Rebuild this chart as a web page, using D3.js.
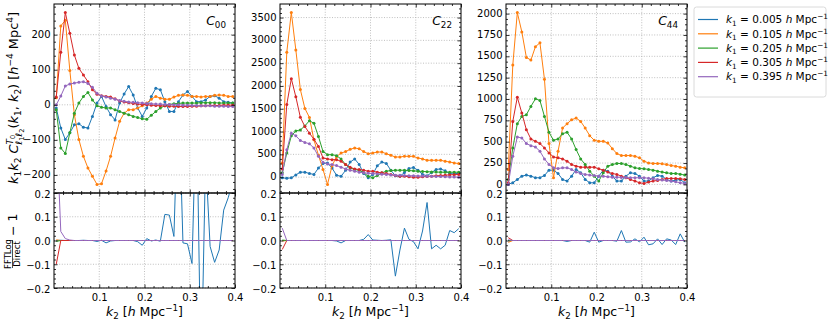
<!DOCTYPE html>
<html>
<head>
<meta charset="utf-8">
<script src="https://d3js.org/d3.v7.min.js"></script>
<style>
body { margin: 0; background: #fff; }
svg { font-family: "DejaVu Sans", sans-serif; }
.tick text { font-size: 10px; fill: #000; font-family: "DejaVu Sans", sans-serif; }
.domain { display: none; }
.tick line { stroke: #000; stroke-width: 0.8; }
.grid line { stroke: #b0b0b0; stroke-width: 0.8; stroke-dasharray: 1,1.6; }
text { white-space: pre; }
</style>
</head>
<body>
<svg width="830" height="322"></svg>
<script>
// k2 grid (h/Mpc)
var k2 = [0.005, 0.015, 0.025, 0.035, 0.045, 0.055, 0.065, 0.075, 0.085, 0.095,
          0.105, 0.115, 0.125, 0.135, 0.145, 0.155, 0.165, 0.175, 0.185, 0.195,
          0.205, 0.215, 0.225, 0.235, 0.245, 0.255, 0.265, 0.275, 0.285, 0.295,
          0.305, 0.315, 0.325, 0.335, 0.345, 0.355, 0.365, 0.375, 0.385, 0.395];
var k1Labels = ["0.005", "0.105", "0.205", "0.305", "0.395"];
var colors = ["#1f77b4", "#ff7f0e", "#2ca02c", "#d62728", "#9467bd"];

// C00
var c00_k005 = [-9, -66, -99, -80, -57, -54, -64, -66, -33, 5, 24, -5, -28, -43, 5, 31, 52, 28, -9, -33, -9, 24, 47, 43, 9, -19, -19, 9, 28, 38, 24, 9, 9, 14, 24, 26, 19, 9, 7, 5];
var c00_k105 = [20, 225, 241, 98, -28, -99, -147, -180, -204, -227, -225, -189, -147, -95, -47, -24, -14, -14, -9, -3, 5, 16, 24, 19, 16, 16, 22, 27, 28, 27, 24, 24, 22, 24, 24, 27, 28, 27, 24, 24];
var c00_k205 = [-14, -123, -139, -80, -24, 5, 24, 35, 14, -3, -7, -9, -9, -14, -19, -24, -28, -33, -36, -40, -41, -30, -19, -9, -3, 1, 3, 4, 5, 5, 5, 5, 6, 6, 6, 6, 5, 5, 5, 5];
var c00_k305 = [22, 150, 263, 204, 142, 104, 85, 66, 43, 30, 26, 24, 22, 17, 11, 8, 6, 4, 2, 1, 0, -1, -2, -3, -3, -4, -4, -5, -5, -5, -4, -4, -3, -3, -2, -2, -2, -1, -1, -1];
var c00_k395 = [0, 25, 54, 59, 62, 64, 66, 61, 50, 33, 25, 22, 19, 16, 12, 10, 8, 7, 6, 5, 4, 3, 2, 2, 1, 1, 0, 0, -1, -1, -2, -2, -3, -3, -3, -4, -4, -4, -5, -5];

// C22
var c22_k005 = [-14, -25, -14, 50, 109, 110, 80, 60, 200, 300, 310, 200, 40, 20, 150, 330, 400, 280, 80, -14, 60, 250, 330, 300, 150, 30, 20, 100, 190, 210, 150, 60, 30, 100, 170, 180, 140, 80, 70, 90];
var c22_k105 = [312, 2739, 3609, 2790, 1920, 1507, 1310, 819, 480, 170, -159, 250, 450, 529, 560, 610, 640, 623, 560, 514, 529, 551, 551, 514, 478, 442, 442, 457, 457, 457, 420, 399, 370, 370, 370, 370, 348, 333, 312, 297];
var c22_k205 = [94, 529, 906, 1014, 1036, 1123, 1239, 1181, 891, 565, 493, 493, 471, 399, 275, 203, 167, 152, 94, 22, -14, 36, 94, 130, 145, 152, 152, 152, 145, 138, 130, 125, 120, 115, 112, 110, 110, 110, 109, 109];
var c22_k305 = [181, 1594, 2159, 1761, 1312, 1109, 964, 833, 674, 420, 399, 384, 384, 348, 275, 217, 181, 167, 152, 130, 130, 109, 94, 80, 58, 36, 22, 22, 7, 0, 0, 7, 15, 22, 30, 36, 43, 50, 55, 58];
var c22_k395 = [58, 601, 964, 906, 804, 761, 732, 638, 457, 326, 290, 275, 254, 217, 181, 152, 130, 109, 94, 87, 80, 72, 65, 58, 50, 43, 40, 36, 33, 30, 27, 25, 22, 18, 15, 12, 9, 6, 3, 0];

// C44
var c44_k005 = [3, 19, 58, 97, 109, 97, 78, 78, 105, 167, 167, 128, 58, 39, 97, 175, 136, 58, 19, 19, 97, 167, 155, 97, 39, 39, 97, 136, 128, 97, 39, 39, 78, 105, 97, 58, 39, 50, 58, 19];
var c44_k105 = [175, 1398, 2012, 1786, 1487, 1456, 1612, 1658, 1231, 478, 78, 388, 660, 711, 757, 777, 738, 660, 571, 517, 505, 505, 485, 419, 361, 338, 338, 338, 330, 311, 272, 252, 245, 245, 241, 233, 221, 214, 202, 194];
var c44_k205 = [58, 427, 711, 796, 816, 913, 1002, 983, 796, 610, 517, 532, 594, 610, 532, 408, 299, 233, 155, 97, 39, 136, 214, 233, 245, 245, 233, 214, 194, 186, 183, 175, 167, 155, 144, 136, 128, 128, 120, 109];
var c44_k305 = [19, 738, 1021, 835, 641, 532, 505, 478, 427, 369, 322, 311, 299, 272, 233, 214, 202, 202, 202, 202, 183, 167, 144, 128, 117, 97, 78, 58, 39, 19, 12, 27, 39, 47, 58, 70, 70, 70, 66, 58];
var c44_k395 = [0, 330, 555, 544, 478, 454, 439, 388, 299, 233, 194, 186, 194, 194, 175, 144, 128, 117, 109, 105, 97, 97, 89, 85, 85, 82, 80, 78, 78, 78, 78, 72, 66, 58, 52, 45, 39, 30, 20, 12];

// FFTLog / Direct - 1
var r00_k005 = [0, 0.001, 0, 0, 0, 0, 0.001, 0, 0, -0.004, 0.001, -0.01, -0.002, 0, 0, 0, 0, 0, -0.005, -0.02, 0.008, -0.002, 0.002, -0.003, 0.11, 0.107, 0.017, 0.65, -0.01, -0.014, -0.097, 0.6, -0.6, 0.35, -0.025, -0.092, -0.04, 0.128, 0.18, 0.25];
var r00_k105 = [0.003, 0, 0, 0, 0, 0, 0, 0, 0, 0, 0, 0, 0, 0, 0, 0, 0, 0, 0, 0, 0, 0, 0, 0, 0, 0, 0, 0, 0, 0, 0, 0, 0, 0, 0, 0, 0, 0, 0, 0];
var r00_k205 = [-0.004, 0, 0, 0, 0, 0, 0, 0, 0, 0, 0, 0, 0, 0, 0, 0, 0, 0, 0, 0, 0, 0, 0, 0, 0, 0, 0, 0, 0, 0, 0, 0, 0, 0, 0, 0, 0, 0, 0, 0];
var r00_k305 = [-0.1, 0, 0, 0, 0, 0, 0, 0, 0, 0, 0, 0, 0, 0, 0, 0, 0, 0, 0, 0, 0, 0, 0, 0, 0, 0, 0, 0, 0, 0, 0, 0, 0, 0, 0, 0, 0, 0, 0, 0];
var r00_k395 = [0.5, 0.038, 0.008, 0.002, 0, 0, 0, 0, 0, 0, 0, 0, 0, 0, 0, 0, 0, 0, 0, 0, 0, 0, 0, 0, 0, 0, 0, 0, 0, 0, 0, 0, 0, 0, 0, 0, 0, 0, 0, 0];

var r22_k005 = [0, 0, 0, 0, 0, 0, 0, 0, 0, 0, 0, 0, -0.002, -0.01, 0, 0, 0, 0, 0.005, 0.025, 0.002, 0.001, 0, 0.001, 0.003, -0.15, -0.04, 0.052, 0.005, -0.005, -0.035, 0.04, 0.16, -0.035, -0.02, -0.035, -0.02, 0.042, 0.033, 0.05];
var r22_k105 = [-0.002, 0, 0, 0, 0, 0, 0, 0, 0, 0, 0, 0, 0, 0, 0, 0, 0, 0, 0, 0, 0, 0, 0, 0, 0, 0, 0, 0, 0, 0, 0, 0, 0, 0, 0, 0, 0, 0, 0, 0];
var r22_k205 = [0.002, 0, 0, 0, 0, 0, 0, 0, 0, 0, 0, 0, 0, 0, 0, 0, 0, 0, 0, 0, 0, 0, 0, 0, 0, 0, 0, 0, 0, 0, 0, 0, 0, 0, 0, 0, 0, 0, 0, 0];
var r22_k305 = [-0.038, 0, 0, 0, 0, 0, 0, 0, 0, 0, 0, 0, 0, 0, 0, 0, 0, 0, 0, 0, 0, 0, 0, 0, 0, 0, 0, 0, 0, 0, 0, 0, 0, 0, 0, 0, 0, 0, 0, 0];
var r22_k395 = [0.052, 0, 0, 0, 0, 0, 0, 0, 0, 0, 0, 0, 0, 0, 0, 0, 0, 0, 0, 0, 0, 0, 0, 0, 0, 0, 0, 0, 0, 0, 0, 0, 0, 0, 0, 0, 0, 0, 0, 0];

var r44_k005 = [0, 0, 0, 0, 0, 0, 0, 0, 0, 0, 0, 0, 0, -0.004, 0, 0, 0, 0, -0.007, 0.035, -0.007, 0, 0, 0, -0.003, 0.042, -0.007, -0.006, 0.007, -0.006, 0.014, -0.018, -0.014, 0.007, -0.017, 0.007, 0.002, -0.017, 0.028, -0.007];
var r44_k105 = [-0.008, 0, 0, 0, 0, 0, 0, 0, 0, 0, 0, 0, 0, 0, 0, 0, 0, 0, 0, 0, 0, 0, 0, 0, 0, 0, 0, 0, 0, 0, 0, 0, 0, 0, 0, 0, 0, 0, 0, 0];
var r44_k205 = [0, 0, 0, 0, 0, 0, 0, 0, 0, 0, 0, 0, 0, 0, 0, 0, 0, 0, 0, 0, 0, 0, 0, 0, 0, 0, 0, 0, 0, 0, 0, 0, 0, 0, 0, 0, 0, 0, 0, 0];
var r44_k305 = [0.012, 0, 0, 0, 0, 0, 0, 0, 0, 0, 0, 0, 0, 0, 0, 0, 0, 0, 0, 0, 0, 0, 0, 0, 0, 0, 0, 0, 0, 0, 0, 0, 0, 0, 0, 0, 0, 0, 0, 0];
var r44_k395 = [0.003, 0, 0, 0, 0, 0, 0, 0, 0, 0, 0, 0, 0, 0, 0, 0, 0, 0, 0, 0, 0, 0, 0, 0, 0, 0, 0, 0, 0, 0, 0, 0, 0, 0, 0, 0, 0, 0, 0, 0];

// ticks
var xTicks = [0.1, 0.2, 0.3, 0.4];
var yTicks00 = [-200, -100, 0, 100, 200];
var yTicks22 = [0, 500, 1000, 1500, 2000, 2500, 3000, 3500];
var yTicks44 = [0, 250, 500, 750, 1000, 1250, 1500, 1750, 2000];
var resTicks = [-0.2, -0.1, 0.0, 0.1, 0.2];

var panels = [
  {sub: "00", series: [c00_k005, c00_k105, c00_k205, c00_k305, c00_k395], res: [r00_k005, r00_k105, r00_k205, r00_k305, r00_k395], yTicks: yTicks00, minor: 20},
  {sub: "22", series: [c22_k005, c22_k105, c22_k205, c22_k305, c22_k395], res: [r22_k005, r22_k105, r22_k205, r22_k305, r22_k395], yTicks: yTicks22, minor: 100},
  {sub: "44", series: [c44_k005, c44_k105, c44_k205, c44_k305, c44_k395], res: [r44_k005, r44_k105, r44_k205, r44_k305, r44_k395], yTicks: yTicks44, minor: 62.5}
];

var panelX = [54, 280, 506], panelW = 181;
var topY = 4, midY = 193, botY = 288;
var topH = midY - topY, botH = botY - midY;

var svg = d3.select("svg");

// little mathtext helper: sequential pieces, with save/restore for stacked scripts
function it(s, fs, dy) { return {s: s, fs: fs, dy: dy || 0, it: true}; }
function rm(s, fs, dy) { return {s: s, fs: fs, dy: dy || 0}; }
function mathText(parent, pieces, opts) {
  var g = parent.append("g");
  var inner = g.append("g");
  var x = 0, saved = 0, maxX = 0;
  pieces.forEach(function(p) {
    if (p.restore) { maxX = x; x = saved; }
    if (p.max) { x = Math.max(x, maxX); }
    if (p.save) saved = x;
    if (p.s === undefined) return;
    var t = inner.append("text").attr("x", x).attr("y", p.dy)
      .style("font-size", p.fs + "px")
      .style("font-style", p.it ? "italic" : "normal")
      .attr("fill", "#000")
      .text(p.s);
    x += t.node().getComputedTextLength();
  });
  var shift = opts.anchor === "middle" ? -x / 2 : (opts.anchor === "end" ? -x : 0);
  inner.attr("transform", "translate(" + shift + ",0)");
  g.attr("transform", "translate(" + opts.x + "," + opts.y + ")" + (opts.rotate ? " rotate(" + opts.rotate + ")" : ""));
  return g;
}

function minorVals(domain, step, majors) {
  var out = [];
  var start = Math.ceil(domain[0] / step) * step;
  for (var v = start; v <= domain[1] + 1e-9; v += step) {
    var near = majors.some(function(m) { return Math.abs(m - v) < step * 0.01; });
    if (!near) out.push(v);
  }
  return out;
}

function drawAxes(g, x, y, w, h, xMaj, yMaj, yStep, showXLabels, yFmt, labelDy) {
  var xMin = minorVals([0, 0.4], 0.02, xMaj.concat([0]));
  var yMin = minorVals(y.domain(), yStep, yMaj);
  // grid
  var grid = g.append("g").attr("class", "grid");
  grid.selectAll(".gx").data(xMaj.filter(function(d) { return d < 0.4; })).enter().append("line")
    .attr("x1", function(d) { return x(d); }).attr("x2", function(d) { return x(d); })
    .attr("y1", 0).attr("y2", h);
  grid.selectAll(".gy").data(yMaj).enter().append("line")
    .attr("x1", 0).attr("x2", w)
    .attr("y1", function(d) { return y(d); }).attr("y2", function(d) { return y(d); });
  return function() {
    g.append("g").attr("transform", "translate(0," + h + ")")
      .call(d3.axisBottom(x).tickValues(xMaj).tickSize(-3.5).tickPadding(6)
        .tickFormat(showXLabels ? d3.format(".1f") : ""));
    g.append("g").attr("transform", "translate(0," + h + ")")
      .call(d3.axisBottom(x).tickValues(xMin).tickSize(-2).tickFormat(""));
    g.append("g").call(d3.axisTop(x).tickValues(xMaj).tickSize(-3.5).tickFormat(""));
    g.append("g").call(d3.axisTop(x).tickValues(xMin).tickSize(-2).tickFormat(""));
    g.append("g").call(d3.axisLeft(y).tickValues(yMaj).tickSize(-3.5).tickPadding(3.5).tickFormat(yFmt))
      .selectAll("text").attr("dy", labelDy);
    g.append("g").call(d3.axisLeft(y).tickValues(yMin).tickSize(-2).tickFormat(""));
    g.append("g").attr("transform", "translate(" + w + ",0)")
      .call(d3.axisRight(y).tickValues(yMaj).tickSize(-3.5).tickFormat(""));
    g.append("g").attr("transform", "translate(" + w + ",0)")
      .call(d3.axisRight(y).tickValues(yMin).tickSize(-2).tickFormat(""));
    g.append("rect").attr("width", w).attr("height", h)
      .attr("fill", "none").attr("stroke", "#000").attr("stroke-width", 1);
  };
}

var defs = svg.append("defs");

panels.forEach(function(p, pi) {
  var x = d3.scaleLinear().domain([0, 0.4]).range([0, panelW]);
  var all = p.series.reduce(function(a, s) { return a.concat(s); }, []);
  var lo = d3.min(all), hi = d3.max(all), pad = (hi - lo) * 0.05;
  var y = d3.scaleLinear().domain([lo - pad, hi + pad]).range([topH, 0]);
  var yr = d3.scaleLinear().domain([-0.2, 0.2]).range([botH, 0]);

  defs.append("clipPath").attr("id", "ct" + pi).append("rect").attr("width", panelW).attr("height", topH);
  defs.append("clipPath").attr("id", "cb" + pi).append("rect").attr("width", panelW).attr("height", botH);

  // top panel
  var gt = svg.append("g").attr("transform", "translate(" + panelX[pi] + "," + topY + ")");
  var finishTop = drawAxes(gt, x, y, panelW, topH, xTicks, p.yTicks, p.minor, false, d3.format("d"), "0.26em");
  var plotT = gt.append("g").attr("clip-path", "url(#ct" + pi + ")");
  var line = d3.line().x(function(d, i) { return x(k2[i]); }).y(function(d) { return y(d); });
  p.series.forEach(function(s, si) {
    plotT.append("path").datum(s).attr("d", line)
      .attr("fill", "none").attr("stroke", colors[si]).attr("stroke-width", 1);
    plotT.selectAll(".m" + si).data(s).enter().append("circle")
      .attr("cx", function(d, i) { return x(k2[i]); })
      .attr("cy", function(d) { return y(d); })
      .attr("r", 1.5).attr("fill", colors[si]);
  });
  finishTop();

  mathText(gt, [it("C", 12.5), rm(p.sub, 8.75, 3)], {x: panelW - 9, y: 21, anchor: "end"});

  // residual panel
  var gb = svg.append("g").attr("transform", "translate(" + panelX[pi] + "," + midY + ")");
  var finishBot = drawAxes(gb, x, yr, panelW, botH, xTicks, resTicks, 0.02, true, d3.format(".1f"), "0.4em");
  var plotB = gb.append("g").attr("clip-path", "url(#cb" + pi + ")");
  var lineR = d3.line().x(function(d, i) { return x(k2[i]); }).y(function(d) { return yr(d); });
  p.res.forEach(function(s, si) {
    plotB.append("path").datum(s).attr("d", lineR)
      .attr("fill", "none").attr("stroke", colors[si]).attr("stroke-width", 1);
  });
  finishBot();

  // x label
  mathText(svg, [it("k", 12.5), rm("2", 8.75, 3), rm(" [", 12.5), it("h", 12.5), rm(" Mpc", 12.5), rm("−1", 8.75, -5), rm("]", 12.5)],
    {x: panelX[pi] + panelW / 2, y: 316, anchor: "middle"});
});

// y label of top row
var F = 12.9, S = 9, SS = 6.7;
mathText(svg, [
  it("k", F), rm("1", S, 3), it("k", F), rm("2", S, 3), rm(" ", F),
  it("C", F), {save: true}, it("T", S, -5.5), rm("0", SS, -3), {restore: true},
  it("ℓ", S, 3.5), rm("1", SS, 5.5), it("ℓ", S, 3.5), rm("2", SS, 5.5), {max: true},
  rm("(", F), it("k", F), rm("1", S, 3), rm(", ", F), it("k", F), rm("2", S, 3), rm(")", F),
  rm(" [", F), it("h", F), rm("−4", S, -5), rm(" Mpc", F), rm("4", S, -5), rm("]", F)
], {x: 18, y: 98, anchor: "middle", rotate: -90});

// y label of residual row: FFTLog/Direct - 1
var fr = svg.append("g").attr("transform", "translate(12.5,241) rotate(-90)");
fr.append("text").attr("x", -13).attr("y", -2).attr("text-anchor", "middle").style("font-size", "8.5px").text("FFTLog");
fr.append("text").attr("x", -13).attr("y", 7.5).attr("text-anchor", "middle").style("font-size", "8.5px").text("Direct");
fr.append("line").attr("x1", -27).attr("x2", 1).attr("y1", 0).attr("y2", 0).attr("stroke", "#000").attr("stroke-width", 0.7);
fr.append("text").attr("x", 5).attr("y", 4.3).style("font-size", "12.5px").text("− 1");

// legend
var lg = svg.append("g").attr("transform", "translate(694,7)");
lg.append("rect").attr("width", 132).attr("height", 90).attr("rx", 2.5)
  .attr("fill", "#fff").attr("fill-opacity", 0.8).attr("stroke", "#d0d0d0").attr("stroke-width", 0.8);
k1Labels.forEach(function(lab, i) {
  var yy = 12.5 + i * 14.3;
  lg.append("line").attr("x1", 4).attr("x2", 24).attr("y1", yy).attr("y2", yy)
    .attr("stroke", colors[i]).attr("stroke-width", 1.2);
  mathText(lg, [it("k", 10.5), rm("1", 7.3, 2.5), rm(" = " + lab + " ", 10.5), it("h", 10.5), rm(" Mpc", 10.5), rm("−1", 7.3, -4)],
    {x: 32, y: yy + 3.7, anchor: "start"});
});
</script>
</body>
</html>
